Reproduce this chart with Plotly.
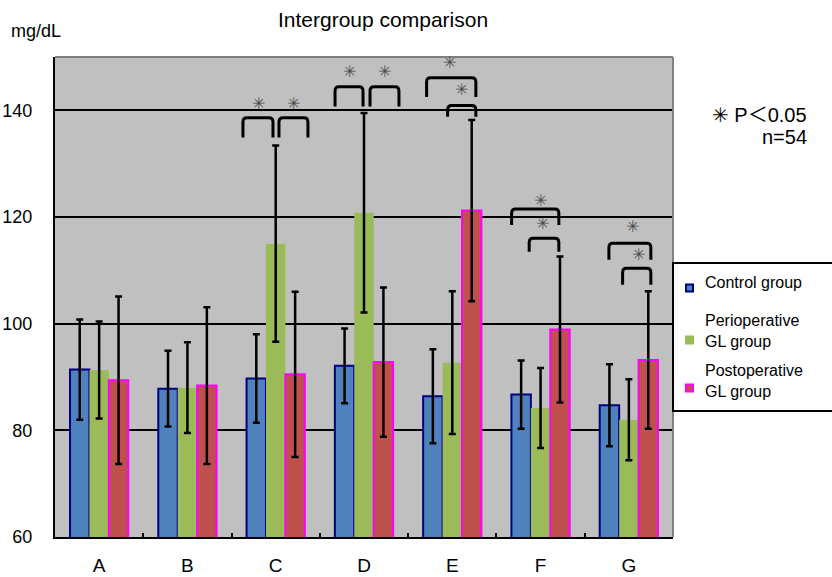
import plotly.graph_objects as go

# ---- data -------------------------------------------------------------
categories = ["A", "B", "C", "D", "E", "F", "G"]
control_mean = [91.4, 87.8, 89.7, 92.1, 86.4, 86.7, 84.7]
control_sd = [9.4, 7.1, 8.3, 7.0, 8.8, 6.4, 7.7]
periop_mean = [91.3, 88.0, 115.0, 120.8, 92.7, 84.2, 82.0]
periop_sd = [9.1, 8.5, 18.4, 18.7, 13.4, 7.5, 7.6]
postop_mean = [89.4, 88.4, 90.5, 92.8, 121.2, 98.9, 93.2]
postop_sd = [15.7, 14.7, 15.5, 14.0, 17.0, 13.7, 12.9]
y_ticks = [60, 80, 100, 120, 140]

# significance brackets: (category index, left offset, right offset, top, leg bottom)
brackets = [
    (2, -0.371, -0.031, 138.6, 134.9),
    (2, 0.037, 0.365, 138.6, 134.9),
    (3, -0.328, -0.011, 144.4, 140.7),
    (3, 0.068, 0.396, 144.4, 140.7),
    (4, -0.291, 0.267, 146.1, 142.5),
    (4, -0.053, 0.267, 140.9, 138.8),
    (5, -0.328, 0.207, 121.5, 118.5),
    (5, -0.129, 0.207, 116.0, 113.5),
    (6, -0.226, 0.249, 115.1, 112.0),
    (6, -0.071, 0.249, 110.4, 107.3),
]
# star markers above brackets: (category index, offset, y)
stars = [
    (2, -0.20, 141.2), (2, 0.20, 141.2),
    (3, -0.16, 147.2), (3, 0.23, 147.2),
    (4, -0.03, 148.9), (4, 0.105, 143.9),
    (5, 0.0, 123.1), (5, 0.02, 118.7),
    (6, 0.04, 118.2), (6, 0.105, 112.9),
]

FONT = "Liberation Sans, Arial, DejaVu Sans, sans-serif"
STAR_FONT = "DejaVu Sans, Liberation Sans, sans-serif"
CJK_FONT = "Noto Sans CJK JP, Noto Sans CJK SC, sans-serif"
STAR = "\u2733\ufe0e"
x_pos = list(range(len(categories)))

# plot-area geometry in pixels (used for paper-coordinate placement)
W, H = 832, 577
L, R, T, B = 55, 159, 57, 40
PW, PH = W - L - R, H - T - B


def px(x):
    return (x - L) / PW


def py(y):
    return (H - B - y) / PH


fig = go.Figure()
err = dict(type="data", color="black", thickness=2.5, width=3.5)

fig.add_trace(go.Bar(
    x=x_pos, y=control_mean, name="Control group",
    marker=dict(color="#4F81BD", line=dict(color="#000080", width=2)),
    error_y=dict(array=control_sd, **err),
))
fig.add_trace(go.Bar(
    x=x_pos, y=periop_mean, name="Perioperative GL group",
    marker=dict(color="#9BBB59", line=dict(width=0)),
    error_y=dict(array=periop_sd, **err),
))
fig.add_trace(go.Bar(
    x=x_pos, y=postop_mean, name="Postoperative GL group",
    marker=dict(color="#C0504D", line=dict(color="#FF00FF", width=2)),
    error_y=dict(array=postop_sd, **err),
))

shapes = []
rx, ry = 0.045, 0.8
for ci, lo, hi, top, bot in brackets:
    x0, x1 = ci + lo, ci + hi
    path = (f"M {x0},{bot} L {x0},{top - ry} Q {x0},{top} {x0 + rx},{top} "
            f"L {x1 - rx},{top} Q {x1},{top} {x1},{top - ry} L {x1},{bot}")
    shapes.append(dict(type="path", xref="x", yref="y", path=path,
                       line=dict(color="black", width=3), layer="above"))

# gray frame on top and right of plot area
shapes.append(dict(type="line", xref="paper", yref="paper", x0=0, x1=1, y0=1, y1=1,
                   line=dict(color="#808080", width=2)))
shapes.append(dict(type="line", xref="paper", yref="paper", x0=1, x1=1, y0=0, y1=1,
                   line=dict(color="#808080", width=2)))

# legend box and swatches
shapes.append(dict(type="rect", xref="paper", yref="paper",
                   x0=px(673), x1=px(845), y0=py(263), y1=py(411),
                   line=dict(color="black", width=2), fillcolor="white"))
swatches = [(288, "#4F81BD", "#000080"), (340, "#9BBB59", "#9BBB59"), (388, "#C0504D", "#FF00FF")]
for yy, fill, edge in swatches:
    shapes.append(dict(type="rect", xref="paper", yref="paper",
                       x0=px(686), x1=px(693), y0=py(yy + 3.5), y1=py(yy - 3.5),
                       line=dict(color=edge, width=2), fillcolor=fill))

annotations = []
for ci, off, yy in stars:
    annotations.append(dict(x=ci + off, y=yy, xref="x", yref="y", text=STAR,
                            xanchor="center", yanchor="middle", showarrow=False,
                            font=dict(family=STAR_FONT, size=16, color="#4a4a4a")))


def label(x, y, text, size, xanchor="left"):
    return dict(x=px(x), y=py(y), xref="paper", yref="paper", text=text,
                xanchor=xanchor, yanchor="middle", align="left" if xanchor == "left" else "right",
                showarrow=False, font=dict(family=FONT, size=size, color="black"))


annotations += [
    label(383, 20, "Intergroup comparison", 21, "center"),
    label(9, 31, "mg/dL", 18),
    dict(x=px(809), y=py(113), xref="paper", yref="paper", xanchor="right", yanchor="middle",
         text=(f"<span style='font-family:{STAR_FONT}'>{STAR}</span> P"
               f"<span style='font-family:{CJK_FONT}'>＜</span>0.05"),
         showarrow=False, font=dict(family=FONT, size=20, color="black")),
    label(809, 137, "n=54", 20, "right"),
    label(703, 282, "Control group", 16),
    label(703, 331, "Perioperative<br>GL group", 16),
    label(703, 381, "Postoperative<br>GL group", 16),
]

fig.update_layout(
    width=W, height=H,
    margin=dict(l=L, r=R, t=T, b=B, autoexpand=False),
    paper_bgcolor="white", plot_bgcolor="#C0C0C0",
    barmode="group", bargap=0.34, bargroupgap=0,
    showlegend=False,
    shapes=shapes, annotations=annotations,
    font=dict(family=FONT, color="black"),
)
fig.update_xaxes(
    range=[-0.5, 6.5], tickvals=x_pos, ticktext=categories,
    ticks="", showgrid=False, zeroline=False,
    showline=True, linecolor="black", linewidth=2,
    tickfont=dict(family=FONT, size=19, color="black"), ticklabelstandoff=10,
    minor=dict(tickvals=[i + 0.5 for i in x_pos[:-1]], ticks="inside", ticklen=4,
               tickwidth=2, tickcolor="black", showgrid=False),
)
fig.update_yaxes(
    range=[60, 150], tickvals=y_ticks, ticks="",
    showgrid=True, gridcolor="black", gridwidth=1.5, zeroline=False,
    showline=True, linecolor="black", linewidth=2,
    tickfont=dict(family=FONT, size=18, color="black"), ticklabelstandoff=17,
)

fig.write_html("out.html")
